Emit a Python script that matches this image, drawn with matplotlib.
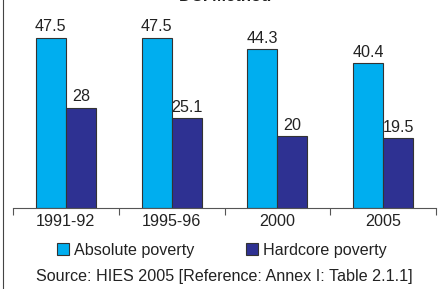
import numpy as np
import matplotlib
matplotlib.use("Agg")
import matplotlib.pyplot as plt
from matplotlib.patches import Patch
from matplotlib.lines import Line2D

plt.rcParams['font.family'] = ['Liberation Sans', 'DejaVu Sans']

years = ["1991-92", "1995-96", "2000", "2005"]
absolute = [47.5, 47.5, 44.3, 40.4]
hardcore = [28, 25.1, 20, 19.5]
labels_abs = ["47.5", "47.5", "44.3", "40.4"]
labels_hc = ["28", "25.1", "20", "19.5"]

c_abs = "#00AEEF"
c_hc = "#2E3192"
fs = 11.6

W, H = 438, 289
fig = plt.figure(figsize=(W / 100, H / 100), dpi=100)
# axes: x 13..436 px, baseline at y=208, 3.58 px per unit
y0 = 208
top = y0 - 50 * 3.58
ax = fig.add_axes([13 / W, 1 - y0 / H, (436 - 13) / W, (y0 - top) / H])

x = np.arange(len(years))
bw = 0.284
ax.bar(x - bw / 2, absolute, bw, color=c_abs, edgecolor="#333333", linewidth=0.8)
ax.bar(x + bw / 2, hardcore, bw, color=c_hc, edgecolor="#333333", linewidth=0.8)
for xi, v, s in zip(x, absolute, labels_abs):
    ax.text(xi - bw / 2, v + 1.0, s, ha="center", va="bottom", fontsize=fs,
            color="#222222", clip_on=False)
for xi, v, s in zip(x, hardcore, labels_hc):
    ax.text(xi + bw / 2, v + 1.0, s, ha="center", va="bottom", fontsize=fs,
            color="#222222", clip_on=False)

ax.set_xlim(-0.5, len(years) - 0.5)
ax.set_ylim(0, 50)
ax.set_yticks([])
ax.set_xticks(np.arange(len(years) + 1) - 0.5)
ax.set_xticklabels([])
ax.set_xticks(x, minor=True)
ax.set_xticklabels(years, minor=True, fontsize=fs, color="#222222")
ax.tick_params(axis="x", which="major", length=5, color="#555555", width=0.8)
ax.tick_params(axis="x", which="minor", length=0, pad=4)
for s in ["top", "right", "left"]:
    ax.spines[s].set_visible(False)
ax.spines["bottom"].set_color("#555555")
ax.spines["bottom"].set_linewidth(0.8)

handles = [Patch(facecolor=c_abs, edgecolor="#333333", linewidth=0.8),
           Patch(facecolor=c_hc, edgecolor="#333333", linewidth=0.8)]
fig.legend(handles, ["Absolute poverty", "Hardcore poverty"], ncol=2,
           loc="center", bbox_to_anchor=(222 / W, 1 - 250 / H), frameon=False,
           fontsize=fs, handlelength=0.75, handleheight=0.75, handletextpad=0.3,
           columnspacing=3.2, labelcolor="#222222")

fig.text(224 / W, 1 - 277 / H, "Source: HIES 2005 [Reference: Annex I: Table 2.1.1]",
         ha="center", va="center", fontsize=fs, color="#222222")

# title cut off at the top of the image
fig.text(225 / W, 1 - 4 / H, "DCI Method", ha="center", va="bottom",
         fontsize=12, fontweight="bold", color="#222222")

fig.add_artist(Line2D([3 / W, 3 / W], [0, 1], color="#444444", linewidth=0.8,
                      transform=fig.transFigure))

fig.savefig("out.png", dpi=100)
